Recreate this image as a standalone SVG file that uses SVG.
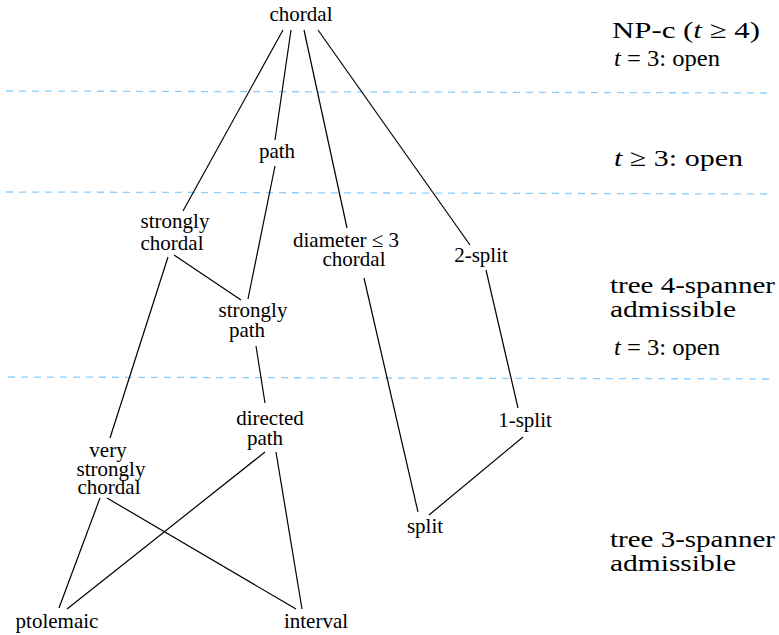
<svg xmlns="http://www.w3.org/2000/svg" width="779" height="635" viewBox="0 0 779 635">
<style>
.n{font-family:"Liberation Serif","Times New Roman",serif;font-size:21px;fill:#000;text-anchor:middle}
.r{font-family:"Liberation Serif","Times New Roman",serif;font-size:24px;fill:#000}
.m{font-style:italic}
.e{stroke:#000;stroke-width:1.2;fill:none}
.d{stroke:#8ccfff;stroke-width:1.3;stroke-dasharray:7 6;fill:none}
</style>
<rect width="779" height="635" fill="#fff"/>
<g id="separators">
<line class="d" x1="6" y1="91" x2="770" y2="93"/>
<line class="d" x1="6" y1="192" x2="770" y2="194"/>
<line class="d" x1="8" y1="377" x2="770" y2="379"/>
</g>
<g id="connectors">
<line class="e" x1="283" y1="30" x2="183" y2="211"/>
<line class="e" x1="291" y1="30" x2="275" y2="140"/>
<line class="e" x1="304" y1="30" x2="347" y2="228"/>
<line class="e" x1="318" y1="30" x2="470" y2="245"/>
<line class="e" x1="275" y1="166" x2="248" y2="299"/>
<line class="e" x1="174" y1="255" x2="241" y2="300"/>
<line class="e" x1="168" y1="257" x2="110" y2="438"/>
<line class="e" x1="256" y1="346" x2="265" y2="403"/>
<line class="e" x1="364" y1="278" x2="418" y2="512"/>
<line class="e" x1="486" y1="270" x2="518" y2="408"/>
<line class="e" x1="523" y1="437" x2="429" y2="515"/>
<line class="e" x1="265" y1="452" x2="67" y2="609"/>
<line class="e" x1="276" y1="452" x2="302" y2="609"/>
<line class="e" x1="100" y1="498" x2="59" y2="608"/>
<line class="e" x1="107" y1="498" x2="296" y2="609"/>
</g>
<g id="chordal"><text class="n" x="301" y="21">chordal</text></g>
<g id="path"><text class="n" x="277" y="158">path</text></g>
<g id="strongly-chordal"><text class="n" x="175" y="228">strongly</text><text class="n" x="172" y="250">chordal</text></g>
<g id="diameter-chordal"><text class="n" x="346" y="247">diameter ≤ 3</text><text class="n" x="354" y="266">chordal</text></g>
<g id="two-split"><text class="n" x="481" y="262">2-split</text></g>
<g id="strongly-path"><text class="n" x="253" y="317">strongly</text><text class="n" x="247" y="337">path</text></g>
<g id="directed-path"><text class="n" x="270" y="425">directed</text><text class="n" x="265" y="445">path</text></g>
<g id="one-split"><text class="n" x="525" y="427">1-split</text></g>
<g id="very-strongly-chordal"><text class="n" x="108" y="457">very</text><text class="n" x="111" y="476">strongly</text><text class="n" x="109" y="494">chordal</text></g>
<g id="split"><text class="n" x="425" y="533">split</text></g>
<g id="ptolemaic"><text class="n" x="57" y="628">ptolemaic</text></g>
<g id="interval"><text class="n" x="316" y="628">interval</text></g>
<g id="annotations">
<text class="r" x="612" y="38" textLength="148" lengthAdjust="spacingAndGlyphs">NP-c (<tspan class="m">t</tspan> ≥ 4)</text>
<text class="r" x="614" y="66" textLength="106" lengthAdjust="spacingAndGlyphs"><tspan class="m">t</tspan> = 3: open</text>
<text class="r" x="614" y="166" textLength="129" lengthAdjust="spacingAndGlyphs"><tspan class="m">t</tspan> ≥ 3: open</text>
<text class="r" x="610" y="293" textLength="165" lengthAdjust="spacingAndGlyphs">tree 4-spanner</text>
<text class="r" x="610" y="317" textLength="126" lengthAdjust="spacingAndGlyphs">admissible</text>
<text class="r" x="614" y="355" textLength="106" lengthAdjust="spacingAndGlyphs"><tspan class="m">t</tspan> = 3: open</text>
<text class="r" x="610" y="547" textLength="165" lengthAdjust="spacingAndGlyphs">tree 3-spanner</text>
<text class="r" x="610" y="571" textLength="126" lengthAdjust="spacingAndGlyphs">admissible</text>
</g>
</svg>
